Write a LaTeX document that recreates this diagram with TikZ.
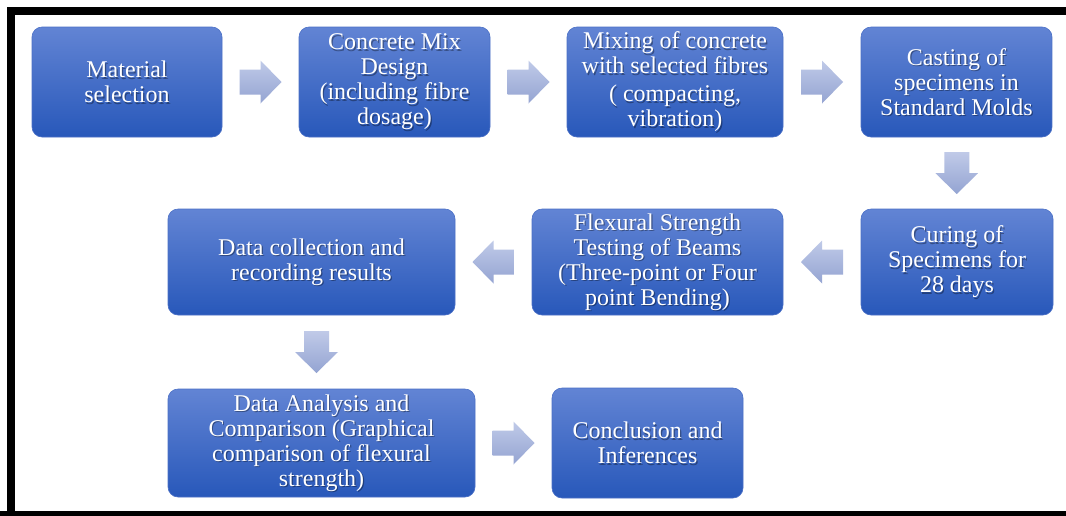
\documentclass[tikz,border=0pt]{standalone}
\usepackage{fontspec}
\setmainfont{Liberation Serif}
\usetikzlibrary{calc}
\definecolor{boxtop}{RGB}{98,132,212}
\definecolor{boxbot}{RGB}{40,88,186}
\definecolor{boxedge}{RGB}{75,112,198}
\definecolor{arrtop}{RGB}{192,202,232}
\definecolor{arrbot}{RGB}{148,164,210}
\tikzset{
  stepbox/.style={rounded corners=10pt, top color=boxtop, bottom color=boxbot,
    draw=boxedge, line width=0.6pt, text opacity=0, align=center, inner sep=2pt,
    font=\fontsize{24}{25}\selectfont},
  steptext/.style={text=white, align=center, inner sep=2pt,
    font=\fontsize{24}{25}\selectfont},
  stepshadow/.style={text=black, text opacity=0.35, align=center, inner sep=2pt,
    font=\fontsize{24}{25}\selectfont},
  blockarrow/.pic={
    \path[top color=arrtop, bottom color=arrbot]
      (-21,-12.5) -- (0,-12.5) -- (0,-21.5) -- (21,0) -- (0,21.5) -- (0,12.5) -- (-21,12.5) -- cycle;
  },
}
\newcommand{\stepnode}[5]{%
  \node[stepbox, minimum width=#3, minimum height=#4] (#1) at #2 {#5};
  \node[stepshadow] (#1s) at ($(#1.center)+(1.2,1.4)$) {#5};
  \node[steptext] (#1t) at (#1.center) {#5};
}
\begin{document}
\begin{tikzpicture}[x=1pt,y=-1pt]
\useasboundingbox (0,0) rectangle (1066,515);
\fill[white] (0,0) rectangle (1066,515);
\begin{scope}
\clip (0,0) rectangle (1066,515);
\draw[line width=8pt] (11,515) -- (11,11) -- (1080,11);
\draw[line width=8pt] (0,515) -- (1080,515);
\end{scope}

\stepnode{b1}{(127,82)}{190pt}{110pt}{Material\\selection}
\stepnode{b2}{(394.5,82)}{191pt}{110pt}{Concrete Mix\\Design\\(including fibre\\dosage)}
\stepnode{b3}{(675,82)}{216pt}{110pt}{Mixing of concrete\\with selected fibres\\[3pt]( compacting,\\vibration)}
\stepnode{b4}{(956.5,82)}{191pt}{110pt}{Casting of\\specimens in\\Standard Molds}
\stepnode{b5}{(957,262)}{192pt}{106pt}{Curing of\\Specimens for\\28 days}
\stepnode{b6}{(657.5,262)}{251pt}{106pt}{Flexural Strength\\Testing of Beams\\(Three-point or Four\\point Bending)}
\stepnode{b7}{(311.5,262)}{287pt}{106pt}{Data collection and\\recording results}
\stepnode{b8}{(321.5,443)}{307pt}{108pt}{Data Analysis and\\Comparison (Graphical\\comparison of flexural\\strength)}
\stepnode{b9}{(647.5,443)}{191pt}{110pt}{Conclusion and\\Inferences}

\pic (a1) at ($(b1.east)!0.5!(b2.west)$) {blockarrow};
\pic (a2) at ($(b2.east)!0.5!(b3.west)$) {blockarrow};
\pic (a3) at ($(b3.east)!0.5!(b4.west)$) {blockarrow};
\pic[rotate=-90] (a4) at ($(b4.south)!0.5!(b5.north)$) {blockarrow};
\pic[rotate=180] (a5) at ($(b5.west)!0.5!(b6.east)$) {blockarrow};
\pic[rotate=180] (a6) at ($(b6.west)!0.5!(b7.east)$) {blockarrow};
\pic[rotate=-90] (a7) at ($(b7.south)!0.5!(b8.north)$) {blockarrow};
\pic (a8) at ($(b8.east)!0.5!(b9.west)$) {blockarrow};
\end{tikzpicture}
\end{document}
